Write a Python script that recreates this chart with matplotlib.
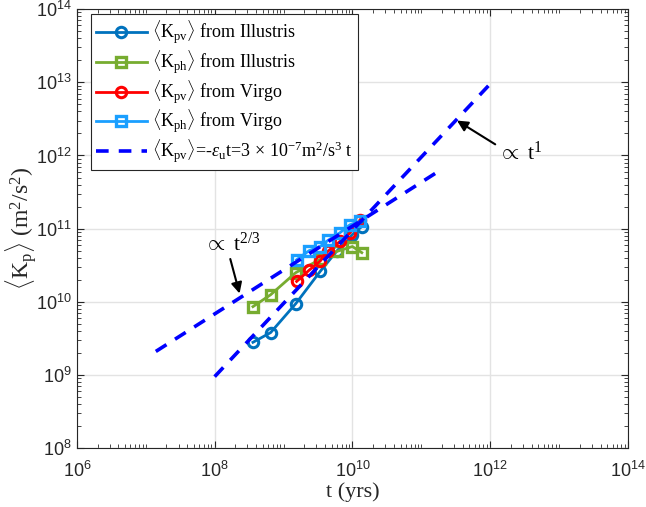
import numpy as np
import matplotlib.pyplot as plt
import matplotlib as mpl
from matplotlib.ticker import LogLocator, FixedLocator, NullFormatter

mpl.rcParams["font.family"] = "Liberation Serif"
mpl.rcParams["mathtext.fontset"] = "custom"
mpl.rcParams["mathtext.rm"] = "Liberation Serif"
mpl.rcParams["mathtext.it"] = "Liberation Serif:italic"
mpl.rcParams["mathtext.sf"] = "Liberation Sans"

# Illustris snapshots (yrs) and kinetic energies (m^2/s^2)
t_ill = [3.6e8, 6.5e8, 1.5e9, 3.4e9, 6.0e9, 1.0e10, 1.37e10]
kpv_ill = [2.8e9, 3.8e9, 9.4e9, 2.6e10, 5.0e10, 8.3e10, 1.07e11]
kph_ill = [8.6e9, 1.25e10, 2.5e10, 3.8e10, 4.9e10, 5.7e10, 4.7e10]

# Virgo snapshots
t_vir = [1.55e9, 2.35e9, 3.4e9, 4.4e9, 6.6e9, 9.2e9, 1.3e10]
kpv_vir = [1.9e10, 2.7e10, 3.6e10, 4.9e10, 6.7e10, 8.7e10, 1.33e11]
kph_vir = [3.76e10, 5.0e10, 5.7e10, 6.9e10, 8.8e10, 1.13e11, 1.26e11]

# reference lines
t_lin = [1e8, 1e12]
k_lin = [9.5e8, 9.5e12]
t_23 = [1.4e7, 1.6e11]
k_23 = [2.1e9, 5.7e11]

c_blue = "#0072BD"
c_green = "#77AC30"
c_red = "#FF0000"
c_lblue = "#1A9FFF"

fig = plt.figure(figsize=(6.46, 5.07), dpi=100)
ax = fig.add_axes([0.119, 0.116, 0.853, 0.866])

ax.plot(t_ill, kpv_ill, "-o", color=c_blue, lw=2, ms=7.5, mfc="none", mew=2.2,
        label=r"$\langle\mathrm{K_{pv}}\rangle$ from Illustris")
ax.plot(t_ill, kph_ill, "-s", color=c_green, lw=2, ms=6.5, mfc="none", mew=2.4,
        label=r"$\langle\mathrm{K_{ph}}\rangle$ from Illustris")
ax.plot(t_vir, kpv_vir, "-o", color=c_red, lw=2, ms=7.5, mfc="none", mew=2.2,
        label=r"$\langle\mathrm{K_{pv}}\rangle$ from Virgo")
ax.plot(t_vir, kph_vir, "-s", color=c_lblue, lw=2, ms=6.5, mfc="none", mew=2.4,
        label=r"$\langle\mathrm{K_{ph}}\rangle$ from Virgo")
ax.plot(t_lin, k_lin, "--", color="#0000FF", lw=2.6, dashes=(3.5, 2.8),
        label=r"$\langle\mathrm{K_{pv}}\rangle$=-$\epsilon_\mathrm{u}$t=3$\,\times\,$10$^{-7}$m$^2$/s$^3$ t")
ax.plot(t_23, k_23, "--", color="#0000FF", lw=2.6, dashes=(3.5, 2.8))

ax.set_xscale("log")
ax.set_yscale("log")
ax.set_xlim(1e6, 1e14)
ax.set_ylim(1e8, 1e14)

xt = [1e6, 1e8, 1e10, 1e12, 1e14]
yt = [1e8, 1e9, 1e10, 1e11, 1e12, 1e13, 1e14]
ax.xaxis.set_major_locator(FixedLocator(xt))
ax.yaxis.set_major_locator(FixedLocator(yt))
ax.set_xticklabels([r"$\mathsf{10^{%d}}$" % int(np.log10(v)) for v in xt], fontsize=13)
ax.set_yticklabels([r"$\mathsf{10^{%d}}$" % int(np.log10(v)) for v in yt], fontsize=13)
ax.xaxis.set_minor_locator(LogLocator(base=10, subs=np.arange(1, 10), numticks=100))
ax.yaxis.set_minor_locator(LogLocator(base=10, subs=np.arange(2, 10), numticks=100))
ax.xaxis.set_minor_formatter(NullFormatter())
ax.yaxis.set_minor_formatter(NullFormatter())
ax.tick_params(which="both", direction="in", top=True, right=True, colors="#262626")
ax.tick_params(which="major", length=5, labelcolor="#262626")
ax.tick_params(axis="x", which="major", pad=9)
ax.tick_params(which="minor", length=3)
for s in ax.spines.values():
    s.set_color("#262626")
    s.set_linewidth(0.8)

ax.grid(True, which="major", color="#e3e3e3", lw=1)
ax.set_axisbelow(True)

ax.set_xlabel("t (yrs)", fontsize=16, labelpad=1, color="#262626")
ax.set_ylabel(r"$\langle\mathrm{K_p}\rangle$ (m$^2$/s$^2$)", fontsize=17, labelpad=-2, color="#262626")

ax.annotate(r"$\propto$ t$^{2/3}$", xy=(2.3e8, 1.3e10), xytext=(7.0e7, 4.2e10),
            fontsize=16, ha="left", va="bottom",
            arrowprops=dict(arrowstyle="-|>", color="black", lw=1.5, mutation_scale=16,
                            shrinkA=0, shrinkB=0, relpos=(0.45, 0.0)))
ax.annotate(r"$\propto$ t$^1$", xy=(3.3e11, 3.0e12), xytext=(1.3e12, 7.5e11),
            fontsize=16, ha="left", va="bottom",
            arrowprops=dict(arrowstyle="-|>", color="black", lw=1.5, mutation_scale=16,
                            shrinkA=0, shrinkB=0, relpos=(0.0, 0.8)))

leg = ax.legend(loc="upper left", bbox_to_anchor=(0.025, 0.99), fontsize=13,
                fancybox=False, edgecolor="#262626", framealpha=1,
                handlelength=2.8, handletextpad=0.3, labelspacing=0.12,
                borderpad=0.3, borderaxespad=0)
leg.get_frame().set_linewidth(0.8)

fig.savefig("out.png", dpi=100)
